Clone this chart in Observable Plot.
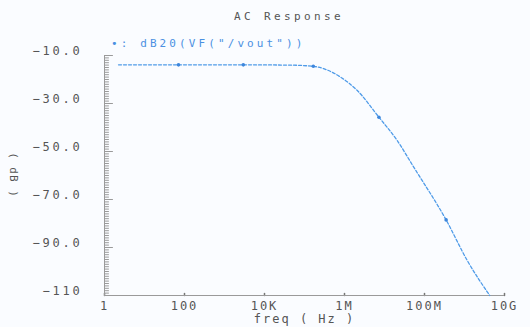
<!DOCTYPE html>
<html><head><meta charset="utf-8">
<script src="https://cdn.jsdelivr.net/npm/d3@7"></script>
<script src="https://cdn.jsdelivr.net/npm/@observablehq/plot@0.6"></script>
<style>
body{margin:0;background:#fafcff;}
#wrap{position:relative;width:530px;height:327px;font-family:"DejaVu Sans Mono",monospace;overflow:hidden;}
#title{position:absolute;top:10px;left:289px;transform:translateX(-50%);font-size:11px;letter-spacing:3.4px;color:#555;white-space:nowrap;}
#legend{position:absolute;top:37px;left:111px;font-size:11px;letter-spacing:3.1px;color:#4a90e2;white-space:nowrap;}
#ylab{position:absolute;left:13px;top:175px;transform:translate(-50%,-50%) rotate(90deg);font-size:11px;letter-spacing:1px;color:#555;white-space:nowrap;}
g[aria-label="y-axis tick label"] text{letter-spacing:2.8px;}
</style></head>
<body>
<div id="wrap">
<div id="chart"></div>
<div id="title"></div>
<div id="legend"></div>
<div id="ylab"></div>
</div>
<script>
// Data
const freq = [2.24, 70.8, 2951, 39800, 166000, 302000, 794000, 2.09e6, 7.24e6, 2.09e7, 5.37e7, 3.47e8, 1.17e9, 4.27e9];
const dB   = [-13.9, -13.9, -13.9, -14.0, -14.5, -15.5, -19.0, -24.6, -35.7, -45.5, -56.5, -78.5, -95.4, -110];
const markerIdx = [1, 2, 4, 8, 11];

const xTicks = [1, 100, 1e4, 1e6, 1e8, 1e10];
const xTickLabels = ["1", "100", "10K", "1M", "100M", "10G"];
const yTicks = [-10, -30, -50, -70, -90, -110];
const yTickLabels = ["\u221210.0", "\u221230.0", "\u221250.0", "\u221270.0", "\u221290.0", "\u2212110"];

const titleText = "AC Response";
const legendText = "\u2022: dB20(VF(\"/vout\"))";
const xLabel = "freq ( Hz )";
const yLabel = "( dB )";

const lineColor = "#4f9be8";
const axisColor = "#9a9a9a";

const data = freq.map((f, i) => ({f, db: dB[i]}));
const markers = markerIdx.map(i => data[i]);
const xFmt = new Map(xTicks.map((t, i) => [t, xTickLabels[i]]));
const yFmt = new Map(yTicks.map((t, i) => [t, yTickLabels[i]]));
const minorTicks = d3.range(-110, -9, 1).filter(v => !yTicks.includes(v));

// inward tick shape (a plain segment)
const tickShape = {draw(context, l) { context.moveTo(0, 0); context.lineTo(0, -l); }};

const chart = Plot.plot({
  width: 530, height: 327,
  marginLeft: 104, marginRight: 26, marginTop: 55, marginBottom: 32,
  style: {background: "transparent", fontFamily: "DejaVu Sans Mono, monospace", fontSize: "12px", color: "#555", letterSpacing: "2px"},
  x: {type: "log", domain: [1, 1e10]},
  y: {domain: [-110, -10]},
  marks: [
    Plot.vector(minorTicks, {y: d => d, frameAnchor: "left", length: 4, rotate: 90, anchor: "start", shape: tickShape, stroke: axisColor, strokeWidth: 1}),
    Plot.vector(yTicks, {y: d => d, frameAnchor: "left", length: 8, rotate: 90, anchor: "start", shape: tickShape, stroke: axisColor, strokeWidth: 1}),
    Plot.axisY(yTicks, {tickSize: 0, tickPadding: 22, dy: -4, tickFormat: d => yFmt.get(d), label: null, fill: "#555"}),
    Plot.axisX(xTicks, {tickSize: 0, tickPadding: 6, tickFormat: d => xFmt.get(d), label: xLabel, labelAnchor: "center", labelOffset: 27, labelArrow: "none", fill: "#555"}),
    Plot.vector(xTicks, {x: d => d, frameAnchor: "bottom", length: 2, rotate: 0, anchor: "start", shape: tickShape, stroke: "#777", strokeWidth: 1.5}),
    Plot.ruleX([1], {stroke: axisColor}),
    Plot.ruleY([-110], {stroke: axisColor}),
    Plot.line(data, {x: "f", y: "db", stroke: lineColor, strokeWidth: 1.3, strokeDasharray: "3,2", curve: "monotone-x"}),
    Plot.dot(markers, {x: "f", y: "db", r: 1.8, fill: "#3d86dc", stroke: "none"})
  ]
});
document.getElementById("chart").appendChild(chart);
document.getElementById("title").textContent = titleText;
document.getElementById("legend").textContent = legendText;
document.getElementById("ylab").textContent = yLabel;
</script>
</body></html>
